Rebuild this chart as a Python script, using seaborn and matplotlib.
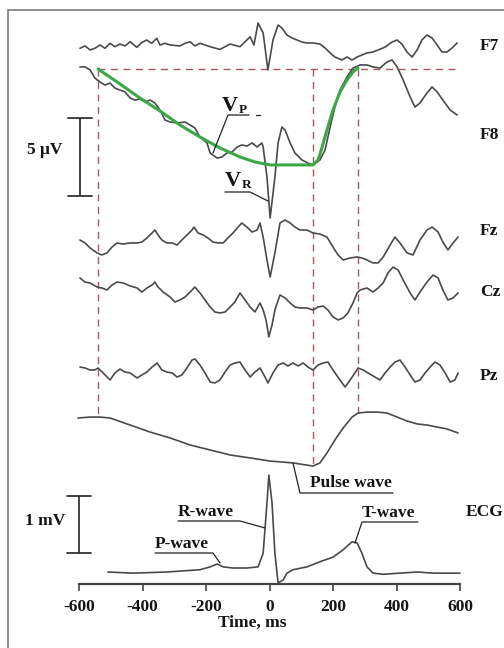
import numpy as np
import matplotlib
matplotlib.use("Agg")
import matplotlib.pyplot as plt
import seaborn as sns
from matplotlib.lines import Line2D

# ---------------- data (time in ms, amplitude in channel units) ----------------
f7_t = [-597, -581, -565, -550, -534, -518, -502, -487, -471, -455, -439, -418, -403, -387, -371,
        -355, -345, -329, -313, -282, -266, -250, -235, -219, -187, -156, -124, -93, -61, -49,
        -36, -20, -5, 11, 27, 39, 55, 71, 87, 102, 118, 137, 159, 175, 191, 206, 228, 244, 260,
        276, 291, 307, 326, 342, 364, 386, 402, 417, 433, 449, 465, 480, 496, 512, 528, 543,
        559, 575, 591]
f7_uv = [-0.21, -0.06, -0.32, -0.21, 0.0, -0.21, 0.11, -0.11, 0.06, -0.06, 0.21, -0.15, 0.15, 0.32,
         0.11, 0.43, 0.0, 0.11, 0.0, -0.06, 0.11, 0.21, -0.06, 0.11, -0.11, -0.28, 0.06, -0.11,
         0.53, 0.0, 1.41, 0.77, -1.60, 0.32, 1.28, 1.09, 0.64, 0.45, 0.32, 0.19, 0.13, 0.13, 0.06,
         -0.19, -0.51, -0.77, -0.96, -0.77, -0.96, -0.77, -0.64, -0.51, -0.45, -0.32, -0.13, 0.19,
         0.32, 0.06, -0.45, -0.77, -0.32, 0.32, 0.64, 0.45, 0.0, -0.45, -0.45, -0.19, 0.13]

f8_t = [-597, -581, -565, -550, -534, -518, -502, -487, -471, -455, -439, -424, -408, -392, -376,
        -361, -345, -329, -313, -291, -266, -250, -235, -219, -197, -187, -165, -150, -134, -118,
        -102, -87, -71, -55, -39, -24, -20, -8, 2, 17, 27, 39, 49, 65, 80, 102, 121, 137, 159, 175,
        191, 206, 222, 244, 263, 285, 307, 326, 348, 370, 386, 402, 421, 443, 458, 474, 496, 512,
        528, 546, 569, 591]
f8_uv = [0.13, 0.13, -0.06, -0.58, -0.83, -1.03, -0.90, -1.22, -1.35, -1.47, -1.86, -1.99, -1.92,
         -2.12, -1.99, -2.18, -2.63, -3.27, -3.40, -3.46, -3.40, -3.59, -3.78, -4.36, -4.74, -5.38,
         -5.71, -5.64, -5.38, -5.32, -5.00, -4.87, -4.94, -4.74, -5.00, -4.74, -5.00, -6.92, -9.55,
         -6.92, -4.74, -3.72, -3.91, -4.74, -5.38, -5.83, -6.03, -6.15, -5.83, -5.19, -3.72, -2.44,
         -1.35, -0.51, 0.06, 0.26, 0.26, 0.13, 0.06, 0.45, 0.58, 0.13, -0.71, -1.79, -2.44, -2.18,
         -1.54, -1.15, -1.47, -1.99, -2.63, -2.95]

fit_t = [-540, -471, -408, -345, -282, -219, -156, -93, -46, 2, 137, 153, 165, 181, 200, 222, 244,
         263, 279]
fit_uv = [0.0, -0.96, -1.86, -2.69, -3.59, -4.36, -5.06, -5.64, -5.96, -6.15, -6.15, -5.83, -5.06,
          -3.91, -2.63, -1.47, -0.71, -0.19, 0.06]

fz_t = [-597, -581, -565, -543, -528, -512, -496, -480, -461, -439, -417, -402, -386, -370, -361,
        -351, -339, -323, -307, -291, -276, -260, -244, -238, -225, -209, -194, -178, -162, -146,
        -131, -115, -99, -87, -71, -55, -39, -30, -20, -8, 2, 17, 33, 49, 65, 80, 96, 118, 137, 159,
        181, 200, 216, 232, 254, 276, 291, 307, 326, 342, 358, 380, 395, 411, 433, 452, 474, 496,
        512, 531, 546, 562, 578, 594]
fz_uv = [0.0, -0.19, -0.51, -0.83, -0.96, -0.83, -0.45, -0.19, -0.26, -0.19, -0.19, -0.13, 0.13,
         0.45, 0.64, 0.32, 0.0, -0.19, -0.19, -0.32, 0.0, 0.32, 0.64, 0.83, 0.45, 0.32, 0.13, -0.13,
         -0.19, -0.19, 0.13, 0.45, 0.83, 1.09, 0.83, 0.51, 0.64, 1.09, 0.19, -1.28, -2.37, -0.83,
         1.09, 1.28, 1.09, 0.83, 0.64, 0.64, 0.45, 0.38, 0.19, -0.45, -0.96, -1.28, -1.15, -1.09,
         -1.15, -1.28, -1.47, -1.47, -1.09, -0.32, 0.19, -0.19, -0.83, -0.96, 0.0, 0.64, 0.83, 0.51,
         -0.13, -0.64, -0.19, 0.19]

cz_t = [-597, -581, -565, -543, -528, -512, -496, -480, -461, -439, -417, -402, -386, -370, -361,
        -351, -335, -313, -298, -282, -266, -250, -235, -219, -203, -187, -172, -156, -140, -124,
        -109, -93, -77, -61, -46, -30, -20, -11, -2, 8, 17, 33, 49, 65, 80, 96, 118, 137, 153, 169,
        184, 200, 216, 232, 247, 263, 276, 285, 307, 326, 342, 358, 373, 389, 405, 421, 443, 458,
        474, 496, 515, 531, 546, 562, 578, 594]
cz_uv = [0.77, 0.51, 0.45, 0.19, 0.13, 0.0, 0.32, 0.51, 0.45, 0.26, 0.13, -0.13, 0.13, 0.32, 0.51,
         0.19, -0.13, -0.45, -0.77, -0.64, -0.45, -0.13, 0.19, -0.19, -0.64, -1.09, -1.41, -1.47,
         -1.41, -1.09, -0.77, -0.19, -0.64, -1.09, -1.41, -0.83, -1.28, -1.92, -3.01, -2.24, -1.28,
         -0.32, -0.51, -0.83, -1.09, -1.15, -1.15, -1.28, -1.09, -1.03, -1.28, -1.73, -1.92, -1.79,
         -1.47, -0.83, -0.19, 0.0, 0.13, -0.13, 0.13, 0.45, 1.09, 1.47, 1.28, 0.64, -0.19, -0.64,
         -0.13, 0.51, 0.96, 0.77, 0.0, -0.64, -0.51, -0.19]

pz_t = [-597, -581, -565, -550, -540, -524, -502, -487, -471, -455, -439, -417, -402, -386, -370,
        -354, -339, -323, -307, -291, -276, -260, -244, -235, -219, -203, -187, -172, -156, -140,
        -124, -109, -93, -77, -61, -46, -30, -14, -5, 11, 27, 43, 58, 74, 90, 106, 121, 137, 153,
        169, 184, 200, 222, 238, 254, 269, 279, 295, 310, 332, 348, 364, 380, 395, 411, 427, 443,
        458, 474, 490, 506, 521, 537, 553, 569, 584, 594]
pz_uv = [0.19, 0.13, 0.0, 0.0, 0.13, -0.19, -0.64, -0.19, 0.06, -0.13, -0.19, -0.51, -0.32, -0.13,
         0.19, 0.45, 0.0, -0.13, -0.19, -0.45, -0.32, 0.13, 0.64, 0.71, 0.32, -0.19, -0.77, -0.83,
         -0.64, -0.13, 0.32, 0.45, 0.51, 0.0, -0.45, -0.13, 0.13, -0.45, -0.83, -0.19, 0.32, 0.45,
         0.26, 0.45, 0.26, 0.45, 0.19, 0.0, 0.32, 0.45, 0.51, 0.0, -0.64, -1.09, -0.64, -0.19, 0.13,
         0.0, -0.19, -0.45, -0.64, -0.19, 0.19, 0.51, 0.64, 0.19, -0.32, -0.77, -0.64, -0.19, 0.19,
         0.51, 0.32, -0.19, -0.77, -0.64, -0.19]

pulse_t = [-603, -565, -534, -502, -439, -376, -313, -250, -187, -124, -61, 2, 74, 137, 159, 181,
           206, 232, 260, 279, 307, 339, 370, 402, 433, 465, 496, 528, 559, 594]
pulse_au = [1.41, 1.47, 1.47, 1.41, 0.96, 0.51, 0.13, -0.32, -0.64, -0.96, -1.15, -1.35, -1.47,
            -1.67, -1.47, -0.83, 0.0, 0.77, 1.47, 1.73, 1.79, 1.79, 1.73, 1.47, 1.22, 1.03, 0.96,
            0.83, 0.71, 0.45]

ecg_t = [-509, -430, -323, -219, -187, -165, -146, -115, -71, -36, -20, -8, -2, 8, 17, 27, 43, 55,
         74, 118, 159, 200, 232, 260, 276, 291, 307, 326, 358, 411, 465, 515, 600]
ecg_mv = [0.0, -0.02, 0.0, 0.04, 0.09, 0.14, 0.09, 0.07, 0.07, 0.09, 0.33, 1.21, 1.70, 1.21, 0.33,
          -0.19, -0.14, -0.02, 0.04, 0.09, 0.18, 0.26, 0.39, 0.53, 0.51, 0.33, 0.09, -0.02, -0.04,
          -0.02, 0.0, -0.02, -0.02]

marker_times = [-540, 137, 279]          # vertical reference lines (ms)
time_ticks = [-600, -400, -200, 0, 200, 400, 600]
time_tick_labels = ["-600", "-400", "-200", "0", "200", "400", "600"]
channel_names = ["F7", "F8", "Fz", "Cz", "Pz", "ECG"]

# ---------------- layout (pixel geometry of the drawing) ----------------
W, H = 504, 648
AXIS_Y = 584                      # pixel row of time axis
X0, X1 = 79, 460                  # pixel columns of -600 and 600 ms
MS_PER_PX = 1200.0 / (X1 - X0)
UV_PX = 15.6                      # px per microvolt
MV_PX = 57.0                      # px per millivolt (ECG)
base = {"F7": 45, "F8": 69, "Fz": 240, "Cz": 290, "Pz": 370, "pulse": 440, "ECG": 572}


def t_of(px):
    return -600 + (px - X0) * MS_PER_PX


def ypos(key, amp, scale=UV_PX):
    return base[key] - np.asarray(amp, dtype=float) * scale


sns.set_theme(style="white")
plt.rcParams["font.family"] = ["Liberation Serif", "DejaVu Serif"]
plt.rcParams["font.weight"] = "bold"
plt.rcParams["axes.unicode_minus"] = False

fig = plt.figure(figsize=(W / 100, H / 100), dpi=100)
fig.patch.set_facecolor("white")
ax = fig.add_axes([0, (H - AXIS_Y) / H, 1, AXIS_Y / H])
ax.set_facecolor("white")
ax.set_xlim(t_of(0), t_of(W))
ax.set_ylim(AXIS_Y, 0)

trace_col = "#4a4a4a"
dash_col = "#a8585c"
txt_col = "#141414"

# dashed reference lines
ax.plot([-540, t_of(456)], [base["F8"], base["F8"]], color=dash_col, lw=1.0,
        dashes=(5, 4), zorder=1)
for mt in marker_times:
    ybot = float(ypos("pulse", np.interp(mt, pulse_t, pulse_au)))
    ax.plot([mt, mt], [base["F8"], ybot], color=dash_col, lw=1.0, dashes=(5, 4), zorder=1)

traces = [
    (f7_t, ypos("F7", f7_uv)),
    (f8_t, ypos("F8", f8_uv)),
    (fz_t, ypos("Fz", fz_uv)),
    (cz_t, ypos("Cz", cz_uv)),
    (pz_t, ypos("Pz", pz_uv)),
    (pulse_t, ypos("pulse", pulse_au)),
    (ecg_t, ypos("ECG", ecg_mv, MV_PX)),
]
for tt, yy in traces:
    sns.lineplot(x=tt, y=yy, ax=ax, color=trace_col, lw=1.2, sort=False,
                 estimator=None, zorder=3)

# green fitted potential
sns.lineplot(x=fit_t, y=ypos("F8", fit_uv), ax=ax, color="#3aa845", lw=2.2, sort=False,
             estimator=None, zorder=4)

# scale bars
def scale_bar(xpx, ytop, length):
    xc = t_of(xpx)
    ax.plot([xc, xc], [ytop, ytop + length], color="#333333", lw=1.3, clip_on=False)
    for yy in (ytop, ytop + length):
        ax.plot([t_of(xpx - 12), t_of(xpx + 12)], [yy, yy], color="#333333", lw=1.3,
                clip_on=False)

scale_bar(80, 118, 5 * UV_PX)
scale_bar(79, 496, 1 * MV_PX)

fs = 12.5
ax.text(t_of(27), 150, "5 μV", fontsize=fs, ha="left", va="center", color=txt_col)
ax.text(t_of(25), 521, "1 mV", fontsize=fs, ha="left", va="center", color=txt_col)

label_pos = {"F7": (480, 46), "F8": (480, 135), "Fz": (480, 231), "Cz": (480, 292),
             "Pz": (480, 376), "ECG": (466, 512)}
for name in channel_names:
    px, py = label_pos[name]
    ax.text(t_of(px), py, name, fontsize=fs, ha="left", va="center", color=txt_col)

def leader(points):
    xs = [t_of(p[0]) for p in points]
    ys = [p[1] for p in points]
    ax.plot(xs, ys, color="#222222", lw=0.9, zorder=5, clip_on=False)

# V_P
ax.text(t_of(222), 106, "V", fontsize=16, ha="left", va="center", color=txt_col)
ax.text(t_of(239), 110, "P", fontsize=9.5, ha="left", va="center", color=txt_col)
leader([(213, 153), (228, 115), (249, 115)])
leader([(256, 115), (260, 115)])
# V_R
ax.text(t_of(225), 181, "V", fontsize=16, ha="left", va="center", color=txt_col)
ax.text(t_of(242), 185, "R", fontsize=9.5, ha="left", va="center", color=txt_col)
leader([(225, 192), (250, 192), (268, 201)])

# Pulse wave
ax.text(t_of(310), 483, "Pulse wave", fontsize=fs, ha="left", va="center", color=txt_col)
leader([(293, 463), (300, 493), (393, 493)])
# R-wave
ax.text(t_of(178), 512, "R-wave", fontsize=fs, ha="left", va="center", color=txt_col)
leader([(178, 521), (240, 521), (265, 528)])
# P-wave
ax.text(t_of(155), 544, "P-wave", fontsize=fs, ha="left", va="center", color=txt_col)
leader([(155, 553), (213, 553), (220, 563)])
# T-wave
ax.text(t_of(362), 513, "T-wave", fontsize=fs, ha="left", va="center", color=txt_col)
leader([(418, 522), (362, 522), (355, 543)])

# time axis
for s in ["left", "top", "right"]:
    ax.spines[s].set_visible(False)
ax.spines["bottom"].set_visible(True)
ax.spines["bottom"].set_bounds(-600, 600)
ax.spines["bottom"].set_color("#444444")
ax.spines["bottom"].set_linewidth(1.6)
ax.set_xticks(time_ticks)
ax.set_xticklabels(time_tick_labels, fontsize=fs, fontweight="bold", color=txt_col)
ax.set_yticks([])
ax.tick_params(axis="x", bottom=True, direction="out", length=5, width=1.2,
               color="#444444", pad=6)
ax.set_xlabel("Time, ms", fontsize=fs, fontweight="bold", color=txt_col, labelpad=0)
ax.set_ylabel("")

# partial frame (top and left edges)
fig.add_artist(Line2D([8 / W, 8 / W], [0, 1 - 10 / H], transform=fig.transFigure,
                      color="#7a7a7a", lw=1.2))
fig.add_artist(Line2D([8 / W, 1], [1 - 10 / H, 1 - 10 / H], transform=fig.transFigure,
                      color="#7a7a7a", lw=1.2))

fig.savefig("out.png", dpi=100, facecolor="white")
